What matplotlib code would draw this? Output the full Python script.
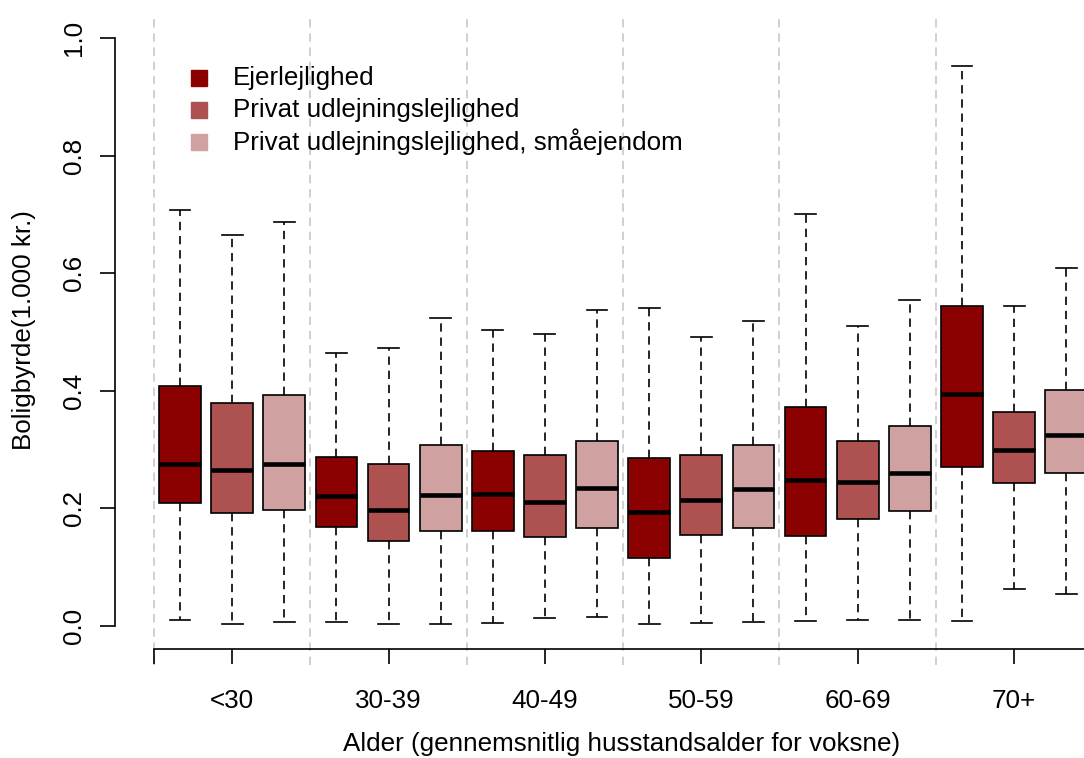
"""Boxplots of boligbyrde by age group and housing type."""

import matplotlib
matplotlib.use("Agg")
import matplotlib.pyplot as plt
from matplotlib.lines import Line2D

plt.rcParams['font.family'] = ['Liberation Sans', 'DejaVu Sans']
plt.rcParams['font.size'] = 18.7

age_groups = ["<30", "30-39", "40-49", "50-59", "60-69", "70+"]
series_names = [
    "Ejerlejlighed",
    "Privat udlejningslejlighed",
    "Privat udlejningslejlighed, småejendom",
]
colors = ["#8B0000", "#AD5151", "#CFA1A1"]

# one row per series, one value per age group
whisker_low = [
    [0.010, 0.007, 0.005, 0.003, 0.008, 0.008],
    [0.003, 0.003, 0.014, 0.005, 0.011, 0.063],
    [0.006, 0.003, 0.016, 0.006, 0.011, 0.054],
]
quartile_1 = [
    [0.209, 0.168, 0.161, 0.116, 0.153, 0.271],
    [0.192, 0.144, 0.151, 0.155, 0.182, 0.243],
    [0.197, 0.161, 0.167, 0.167, 0.196, 0.261],
]
median = [
    [0.276, 0.221, 0.224, 0.194, 0.248, 0.394],
    [0.266, 0.198, 0.211, 0.214, 0.245, 0.299],
    [0.276, 0.223, 0.235, 0.233, 0.261, 0.324],
]
quartile_3 = [
    [0.409, 0.287, 0.298, 0.286, 0.373, 0.545],
    [0.380, 0.275, 0.290, 0.290, 0.315, 0.364],
    [0.393, 0.307, 0.315, 0.308, 0.340, 0.401],
]
whisker_high = [
    [0.708, 0.464, 0.503, 0.541, 0.700, 0.952],
    [0.665, 0.472, 0.496, 0.492, 0.511, 0.545],
    [0.687, 0.524, 0.537, 0.518, 0.555, 0.608],
]

W, H = 1084, 758


def main():
    fig = plt.figure(figsize=(W / 100, H / 100), dpi=100)
    # axes placed in pixel terms to mimic the R plot region
    ax = fig.add_axes([115 / W, (H - 665) / H, (W - 115) / W, 650 / H])

    n_series = len(series_names)
    dash = (0, (5, 3.5))

    # grey separators between age groups
    for g in range(len(age_groups)):
        ax.axvline(g * n_series + 0.5, color="#C8C8C8", lw=1.2, ls=dash, zorder=0)

    for s in range(n_series):
        stats = []
        positions = []
        for g in range(len(age_groups)):
            stats.append(dict(
                whislo=whisker_low[s][g], q1=quartile_1[s][g], med=median[s][g],
                q3=quartile_3[s][g], whishi=whisker_high[s][g], fliers=[],
            ))
            positions.append(g * n_series + s + 1)
        ax.bxp(
            stats, positions=positions, widths=0.8, capwidths=0.4,
            patch_artist=True, showfliers=False, manage_ticks=False,
            boxprops=dict(facecolor=colors[s], edgecolor="black", linewidth=1.2),
            medianprops=dict(color="black", linewidth=3.3, solid_capstyle="butt"),
            whiskerprops=dict(color="black", linewidth=1.2, linestyle=dash),
            capprops=dict(color="black", linewidth=1.2),
        )

    centers = [g * n_series + 2 for g in range(len(age_groups))]
    ax.set_xlim(1 + (115 - 180) / 52.13, 1 + (W - 180) / 52.13)
    ax.set_ylim((626 - 665) / 588, (626 - 15) / 588)

    ax.set_xticks([0.5] + centers)
    ax.set_xticklabels([""] + age_groups)
    ax.set_yticks([0.0, 0.2, 0.4, 0.6, 0.8, 1.0])
    ax.set_yticklabels(["0.0", "0.2", "0.4", "0.6", "0.8", "1.0"])
    for label in ax.get_yticklabels():
        label.set_rotation(90)
        label.set_va("center")

    for side in ("top", "right"):
        ax.spines[side].set_visible(False)
    ax.spines["left"].set_bounds(0, 1)
    ax.spines["left"].set_linewidth(1.2)
    ax.spines["bottom"].set_position(("data", (626 - 648.5) / 588))
    ax.spines["bottom"].set_bounds(0.5, 18.5)
    ax.spines["bottom"].set_linewidth(1.2)
    ax.tick_params(axis="x", length=11, width=1.2, pad=18)
    ax.tick_params(axis="y", length=11, width=1.2, pad=10)
    ax.patch.set_visible(False)

    fig.text(622 / W, 1 - 744 / H, "Alder (gennemsnitlig husstandsalder for voksne)",
             ha="center", va="center")
    fig.text(24 / W, 1 - 330 / H, "Boligbyrde(1.000 kr.)",
             ha="center", va="center", rotation=90)

    # legend: filled squares with labels
    for s, name in enumerate(series_names):
        y = 1 - (78 + 32 * s) / H
        fig.add_artist(Line2D([199 / W], [y], marker="s", markersize=11,
                              color=colors[s], linestyle="none"))
        fig.text(233 / W, y, name, ha="left", va="center")

    fig.savefig("out.png", dpi=100)


if __name__ == "__main__":
    main()
